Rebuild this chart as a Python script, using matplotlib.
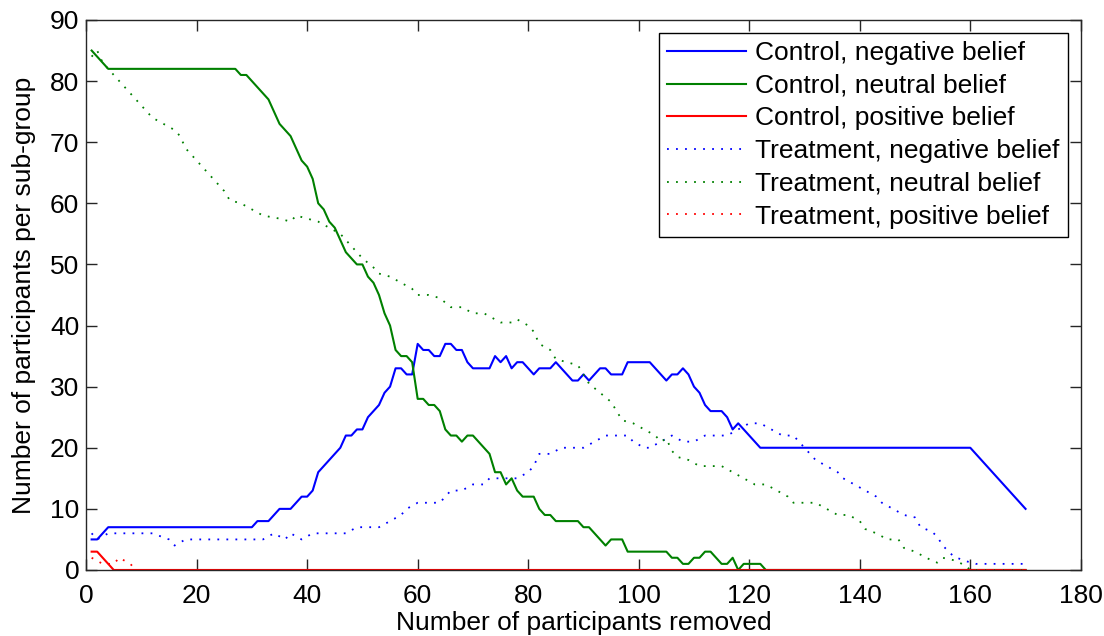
import numpy as np
import matplotlib.pyplot as plt

plt.rcParams['font.family'] = ['Liberation Sans', 'DejaVu Sans']

# control group, participants per belief sub-group vs. participants removed
ctrl_neg_x = [1, 2, 4, 30, 31, 33, 35, 37, 39, 40, 41, 42, 46, 47, 48, 49, 50, 51, 53, 54,
              55, 56, 57, 58, 59, 60, 61, 62, 63, 64, 65, 66, 67, 68, 69, 70, 73, 74, 75, 76,
              77, 78, 79, 81, 82, 84, 85, 88, 89, 90, 91, 93, 94, 95, 97, 98, 102, 105, 106, 107,
              108, 109, 110, 111, 112, 113, 115, 116, 117, 118, 122, 160, 170]
ctrl_neg_y = [5, 5, 7, 7, 8, 8, 10, 10, 12, 12, 13, 16, 20, 22, 22, 23, 23, 25, 27, 29,
              30, 33, 33, 32, 32, 37, 36, 36, 35, 35, 37, 37, 36, 36, 34, 33, 33, 35, 34, 35,
              33, 34, 34, 32, 33, 33, 34, 31, 31, 32, 31, 33, 33, 32, 32, 34, 34, 31, 32, 32,
              33, 32, 30, 29, 27, 26, 26, 25, 23, 24, 20, 20, 10]

ctrl_neu_x = [1, 4, 27, 28, 29, 33, 35, 37, 39, 40, 41, 42, 43, 44, 45, 46, 47, 49, 50, 51,
              52, 53, 54, 55, 56, 57, 58, 59, 60, 61, 62, 63, 64, 65, 66, 67, 68, 69, 70, 73,
              74, 75, 76, 77, 78, 79, 81, 82, 83, 84, 85, 89, 90, 91, 94, 95, 97, 98, 105, 106,
              107, 108, 109, 110, 111, 112, 113, 115, 116, 117, 118, 119, 122, 123, 170]
ctrl_neu_y = [85, 82, 82, 81, 81, 77, 73, 71, 67, 66, 64, 60, 59, 57, 56, 54, 52, 50, 50, 48,
              47, 45, 42, 40, 36, 35, 35, 34, 28, 28, 27, 27, 26, 23, 22, 22, 21, 22, 22, 19,
              16, 16, 14, 15, 13, 12, 12, 10, 9, 9, 8, 8, 7, 7, 4, 5, 5, 3, 3, 2,
              2, 1, 1, 2, 2, 3, 3, 1, 1, 2, 0, 1, 1, 0, 0]

ctrl_pos_x = [1, 2, 5, 170]
ctrl_pos_y = [3, 3, 0, 0]

# treatment group
treat_neg_x = [1, 2, 4, 12, 15, 16, 18, 25, 32, 34, 36, 37, 39, 41, 45, 47, 49, 53, 55, 57,
               58, 60, 62, 64, 66, 68, 70, 72, 73, 75, 77, 78, 80, 81, 82, 84, 86, 88, 90, 92,
               94, 96, 98, 99, 101, 102, 104, 106, 108, 110, 112, 116, 118, 120, 122, 124, 126, 128, 129, 131,
               132, 134, 136, 137, 139, 141, 143, 144, 146, 148, 150, 151, 153, 154, 155, 157, 159, 161, 170]
treat_neg_y = [6, 5, 6, 6, 5, 4, 5, 5, 5, 6, 5, 6, 5, 6, 6, 6, 7, 7, 8, 9,
               10, 11, 11, 11, 13, 13, 14, 14, 15, 15, 15, 15, 16, 17, 19, 19, 20, 20, 20, 21,
               22, 22, 22, 21, 20, 20, 21, 22, 21, 21, 22, 22, 23, 24, 24, 23, 22, 22, 21, 19,
               18, 17, 16, 15, 14, 13, 12, 11, 10, 9, 8.6, 7, 6.3, 5.5, 4, 2.2, 1.5, 1, 1]

treat_neu_x = [1, 2, 3, 5, 6, 8, 9, 11, 12, 14, 16, 17, 18, 19, 21, 22, 24, 25, 26, 28,
               30, 32, 35, 37, 38, 40, 42, 44, 46, 47, 49, 50, 52, 53, 55, 57, 59, 60, 62, 64,
               66, 68, 70, 72, 74, 75, 77, 78, 80, 81, 82, 84, 85, 87, 89, 90, 91, 93, 95, 96,
               97, 99, 101, 103, 104, 105, 106, 107, 109, 111, 115, 117, 118, 119, 121, 123, 125, 127, 128, 132,
               134, 136, 138, 140, 141, 143, 145, 147, 148, 150, 152, 154, 155, 157, 159, 160, 170]
treat_neu_y = [84, 85, 83, 81, 80, 78, 77, 75, 74, 73, 72, 71, 69, 68, 66, 65, 63, 62, 60.5, 60,
               59, 58, 57.5, 57, 58, 57.5, 57, 56, 55, 54, 52, 51, 49.5, 48.5, 48, 47, 46, 45, 45, 44.5,
               43, 43, 42, 42, 41, 40.5, 40.5, 41, 40, 39, 37, 36, 34.5, 34, 33.5, 32, 30.5, 29, 27.5, 26,
               24.5, 24, 23, 22, 21, 21.5, 19.5, 18.5, 18, 17, 17, 16, 15.5, 15, 14, 14, 13, 12, 11, 11,
               10, 9, 9, 8, 6.7, 6, 5, 5, 3.6, 3, 2, 1.2, 2, 1.6, 0.8, 0, 0]

treat_pos_x = [1, 3, 5, 6, 8, 9, 170]
treat_pos_y = [2, 1, 1, 2, 1, 0, 0]

labels = ['Control, negative belief', 'Control, neutral belief', 'Control, positive belief',
          'Treatment, negative belief', 'Treatment, neutral belief', 'Treatment, positive belief']

blue = (0, 0, 1)
green = (0, 0.5, 0)
red = (1, 0, 0)
dots = (0, (1, 4))
fs = 19

fig = plt.figure(figsize=(11.04, 6.36), dpi=100)
ax = fig.add_axes([0.078, 0.1038, 0.901, 0.8648])

ax.plot(ctrl_neg_x, ctrl_neg_y, '-', color=blue, lw=1.5, label=labels[0])
ax.plot(ctrl_neu_x, ctrl_neu_y, '-', color=green, lw=1.5, label=labels[1])
ax.plot(ctrl_pos_x, ctrl_pos_y, '-', color=red, lw=1.5, label=labels[2])
ax.plot(treat_neg_x, treat_neg_y, color=blue, lw=1.3, linestyle=dots, label=labels[3])
ax.plot(treat_neu_x, treat_neu_y, color=green, lw=1.3, linestyle=dots, label=labels[4])
ax.plot(treat_pos_x, treat_pos_y, color=red, lw=1.3, linestyle=dots, label=labels[5])

ax.set_xlim(0, 180)
ax.set_ylim(0, 90)
ax.set_xticks(np.arange(0, 181, 20))
ax.set_yticks(np.arange(0, 91, 10))
ax.tick_params(direction='in', length=8, width=1, top=True, right=True,
               labelsize=fs, colors='#262626', labelcolor='black')
ax.tick_params(axis='x', pad=10)
ax.tick_params(axis='y', pad=5)
for sp in ax.spines.values():
    sp.set_color('#262626')
    sp.set_linewidth(1)

ax.set_xlabel('Number of participants removed', fontsize=fs, labelpad=2)
ax.set_ylabel('Number of participants per sub-group', fontsize=fs, labelpad=10)

leg = ax.legend(loc='upper right', fontsize=fs, fancybox=False, framealpha=1,
                edgecolor='black', handlelength=3.0, handletextpad=0.35,
                labelspacing=0.33, borderaxespad=0.5, borderpad=0.3)
leg.get_frame().set_linewidth(1)

fig.savefig('out.png', dpi=100)
